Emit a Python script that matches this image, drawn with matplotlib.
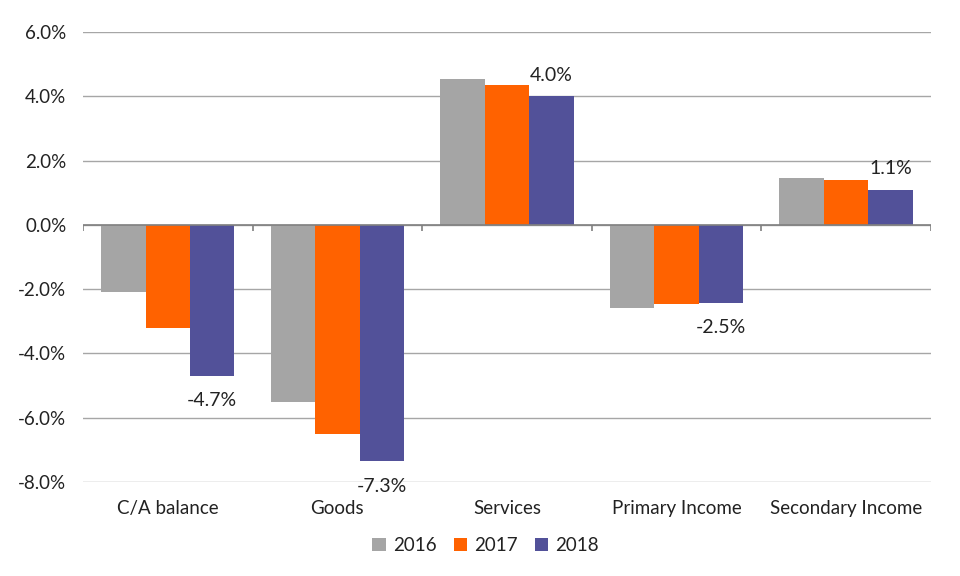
import numpy as np
import matplotlib.pyplot as plt
from matplotlib.ticker import FuncFormatter

# balance components, % of GDP
categories = ['C/A balance', 'Goods', 'Services', 'Primary Income', 'Secondary Income']
years = ['2016', '2017', '2018']
v2016 = [-2.1, -5.5, 4.55, -2.6, 1.47]
v2017 = [-3.2, -6.5, 4.35, -2.45, 1.41]
v2018 = [-4.7, -7.35, 4.0, -2.43, 1.1]
labels2018 = ['-4.7%', '-7.3%', '4.0%', '-2.5%', '1.1%']

colors = ['#A5A5A5', '#FF6200', '#525199']
plt.rcParams['font.family'] = ['Lato', 'DejaVu Sans']

fig = plt.figure(figsize=(9.6, 5.76), dpi=100)
ax = fig.add_axes([0.0865, 0.1632, 0.883, 0.7812])

x = np.arange(len(categories))
w = 0.262
series = [v2016, v2017, v2018]
for i in range(3):
    ax.bar(x + (i - 1) * w, series[i], width=w, color=colors[i], label=years[i], zorder=3)

# data labels on the last year only
for xi, val, lab in zip(x, v2018, labels2018):
    off = 15 if val > 0 else -18
    ax.annotate(lab, (xi + w, val), xytext=(0, off), textcoords='offset points',
                ha='center', va='center', fontsize=14, color='#222222')

ax.set_ylim(-8, 6)
ax.set_xlim(-0.5, len(categories) - 0.5)
ax.set_yticks(np.arange(-8, 6.1, 2))
ax.yaxis.set_major_formatter(FuncFormatter(lambda v, p: '%.1f%%' % v))
ax.grid(axis='y', color='#A6A6A6', linewidth=1, zorder=0)
ax.axhline(0, color='#808080', linewidth=1.2, zorder=4)
ax.vlines(np.arange(len(categories) + 1) - 0.5, -0.19, 0, color='#808080', linewidth=1.2, zorder=4)

ax.set_xticks(x)
ax.set_xticklabels(categories)
ax.tick_params(axis='both', length=0, labelsize=13.5, colors='#222222')
ax.tick_params(axis='x', pad=13)
ax.tick_params(axis='y', pad=12)
for s in ax.spines.values():
    s.set_visible(False)

ax.legend(loc='upper center', bbox_to_anchor=(0.475, -0.085), ncol=3, frameon=False,
          fontsize=13.5, handlelength=0.7, handleheight=0.7, handletextpad=0.4,
          columnspacing=0.9, labelcolor='#222222')

plt.savefig('out.png')
